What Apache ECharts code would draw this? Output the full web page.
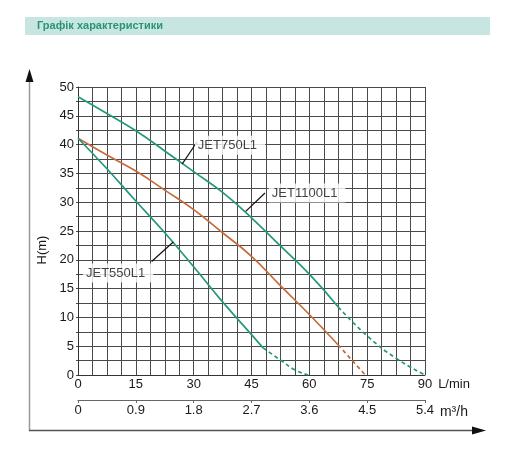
<!DOCTYPE html>
<html>
<head>
<meta charset="utf-8">
<script src="https://cdn.jsdelivr.net/npm/echarts@6/dist/echarts.min.js"></script>
<style>
	html, body { margin: 0; padding: 0; background: #fff; }
	#chart { width: 512px; height: 465px; }
</style>
</head>
<body>
<div id="chart"></div>
<script>
	// Curve values (flow in L/min, head in m)
	var jet1100Flow = [0, 7.5, 15, 22.5, 30, 37.5, 45, 52.5, 60, 67.5];
	var jet1100Head = [48.3, 45.4, 42.4, 38.9, 35.3, 31.7, 27.3, 22.4, 17.5, 11.8];
	var jet1100DashFlow = [67.5, 75, 82.5, 90];
	var jet1100DashHead = [11.8, 6.8, 2.9, 0];

	var jet750Flow = [0, 7.5, 15, 22.5, 30, 37.5, 45, 52.5, 60, 67.5];
	var jet750Head = [41.1, 38.2, 35.4, 32.1, 28.7, 24.7, 20.6, 15.5, 10.5, 5.2];
	var jet750DashFlow = [67.5, 74.5];
	var jet750DashHead = [5.2, 0];

	var jet550Flow = [0, 7.5, 15, 22.5, 30, 37.5, 45, 48];
	var jet550Head = [41.1, 35.8, 30.2, 24.7, 18.8, 12.7, 7.0, 4.7];
	var jet550DashFlow = [48, 52.5, 56.25, 59.7];
	var jet550DashHead = [4.7, 2.6, 0.9, 0];

	// Curve labels and their leader lines
	var labelNames = ['JET750L1', 'JET1100L1', 'JET550L1'];
	var labelFlow = [30.3, 49.5, 1.3];
	var labelHead = [39.9, 31.6, 17.7];
	var leaderFrom = [[30.9, 40.5], [48.5, 31.6], [19.1, 19.7]];
	var leaderTo = [[27.0, 36.6], [43.5, 28.4], [24.7, 23.1]];

	var GREEN = '#23987b';
	var ORANGE = '#c86a3c';
	var GRID = '#4a4a4a';
	var FONT = 'Liberation Sans';
	var TXT = { color: '#1a1a1a', fontSize: 13, fontFamily: FONT };

	function pairs(xs, ys) {
		return xs.map(function (x, i) { return [x, ys[i]]; });
	}

	function curve(name, xs, ys, color, dashed) {
		return {
			name: name,
			type: 'line',
			xAxisIndex: 0,
			smooth: true,
			symbol: 'none',
			data: pairs(xs, ys),
			lineStyle: { color: color, width: 1.7, type: dashed ? [4, 3] : 'solid' },
			z: 3
		};
	}

	var chart = echarts.init(document.getElementById('chart'), null, { renderer: 'canvas' });

	var option = {
		animation: false,
		textStyle: { fontFamily: FONT },
		grid: { left: 78, top: 87, width: 347, height: 288, containLabel: false },
		xAxis: [
			{
				type: 'value',
				min: 0,
				max: 90,
				interval: 3.75,
				name: 'L/min',
				nameLocation: 'end',
				nameGap: 9,
				nameTextStyle: Object.assign({ verticalAlign: 'top', padding: [3, 0, 0, 0] }, TXT),
				axisLine: { lineStyle: { color: '#333', width: 1 } },
				axisTick: { show: false },
				axisLabel: Object.assign({
					margin: 3,
					formatter: function (v) { return v % 15 === 0 ? String(v) : ''; }
				}, TXT),
				splitLine: { show: true, lineStyle: { color: GRID, width: 1 } }
			},
			{
				type: 'value',
				position: 'bottom',
				offset: 25,
				min: 0,
				max: 5.4,
				interval: 0.9,
				name: 'm³/h',
				nameLocation: 'end',
				nameGap: 6,
				nameTextStyle: Object.assign({ verticalAlign: 'top', padding: [5, 0, 0, 0] }, TXT, { fontSize: 14 }),
				axisLine: { show: true, lineStyle: { color: '#666', width: 1 } },
				axisTick: { show: true, length: 3, lineStyle: { color: '#666' } },
				axisLabel: Object.assign({
					margin: 4,
					formatter: function (v) { return (Math.round(v * 10) / 10).toString(); }
				}, TXT),
				splitLine: { show: false }
			}
		],
		yAxis: {
			type: 'value',
			min: 0,
			max: 50,
			interval: 2.5,
			name: 'H(m)',
			nameLocation: 'middle',
			nameRotate: 90,
			nameGap: 29,
			nameTextStyle: Object.assign({ padding: [0, 38, 0, 0] }, TXT),
			axisLine: { show: true, lineStyle: { color: '#333', width: 1 } },
			axisTick: { show: true, length: 2, lineStyle: { color: GRID } },
			axisLabel: Object.assign({
				margin: 4,
				formatter: function (v) { return v % 5 === 0 ? String(v) : ''; }
			}, TXT),
			splitLine: { show: true, lineStyle: { color: GRID, width: 1 } }
		},
		series: [
			curve('JET1100L1', jet1100Flow, jet1100Head, GREEN, false),
			curve('JET1100L1 dashed', jet1100DashFlow, jet1100DashHead, GREEN, true),
			curve('JET750L1', jet750Flow, jet750Head, ORANGE, false),
			curve('JET750L1 dashed', jet750DashFlow, jet750DashHead, ORANGE, true),
			curve('JET550L1', jet550Flow, jet550Head, GREEN, false),
			curve('JET550L1 dashed', jet550DashFlow, jet550DashHead, GREEN, true),
			{
				name: 'labels',
				type: 'scatter',
				symbolSize: 0,
				data: labelNames.map(function (n, i) { return { name: n, value: [labelFlow[i], labelHead[i]] }; }),
				label: Object.assign({
					show: true,
					position: 'right',
					distance: 0,
					formatter: '{b}',
					backgroundColor: '#fff',
					padding: [3, 8, 3, 3]
				}, TXT, { color: '#111' }),
				markLine: {
					silent: true,
					symbol: 'none',
					label: { show: false },
					lineStyle: { color: '#111', width: 1.2, type: 'solid' },
					data: leaderFrom.map(function (p, i) {
						return [{ coord: p }, { coord: leaderTo[i] }];
					})
				},
				z: 5
			}
		],
		graphic: [
			// header band
			{ type: 'rect', shape: { x: 25, y: 17, width: 465, height: 18 }, style: { fill: '#c7e6e1' } },
			{
				type: 'text', x: 37, y: 26,
				style: { text: 'Графік характеристики', fill: '#2a937a', font: 'bold 11px "Liberation Sans"', verticalAlign: 'middle' }
			},
			// outer arrows
			{ type: 'line', shape: { x1: 29.5, y1: 431, x2: 29.5, y2: 78 }, style: { stroke: '#999', lineWidth: 1.5 } },
			{ type: 'polygon', shape: { points: [[29.5, 69], [25.5, 82], [33.5, 82]] }, style: { fill: '#111' } },
			{ type: 'line', shape: { x1: 29, y1: 430.5, x2: 474, y2: 430.5 }, style: { stroke: '#555', lineWidth: 1.5 } },
			{ type: 'polygon', shape: { points: [[486, 430.5], [472, 426.5], [472, 434.5]] }, style: { fill: '#111' } }
		]
	};

	chart.setOption(option);
</script>
</body>
</html>
